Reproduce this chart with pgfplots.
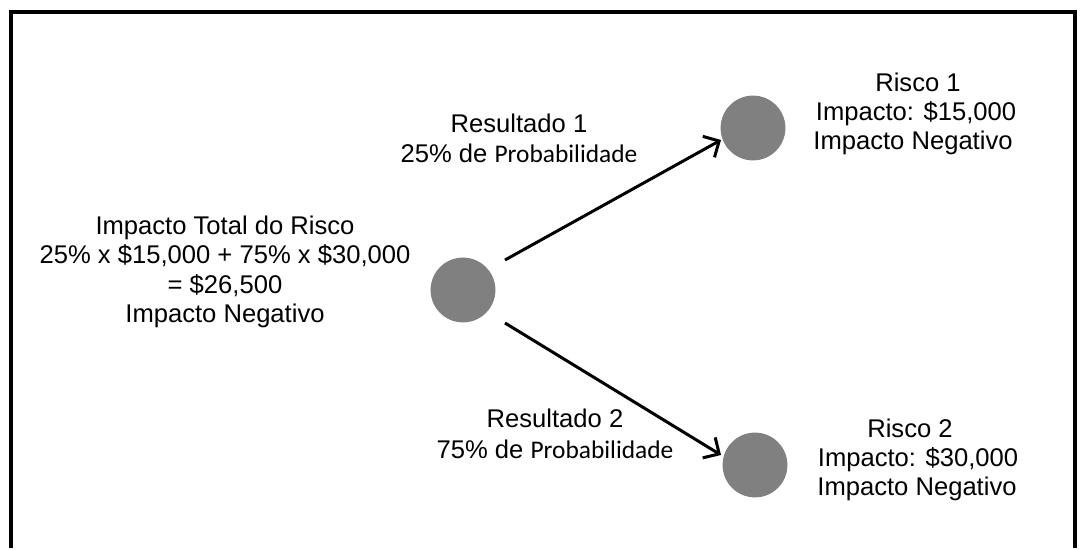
\documentclass[border=0pt]{standalone}
\usepackage{pgfplots}
\pgfplotsset{compat=1.18}
\usepackage{fontspec}
\setmainfont{Liberation Sans}
\newfontfamily\calfont{Carlito}
\usetikzlibrary{arrows.meta}
\definecolor{nodegray}{RGB}{128,128,128}
\begin{document}
\begin{tikzpicture}
\begin{axis}[
  width=540pt, height=274pt, scale only axis,
  xmin=0, xmax=1080, ymin=0, ymax=548, y dir=reverse,
  hide axis, clip=false,
]
\path (axis cs:0,0) rectangle (axis cs:1080,548);
% frame
\draw[line width=2pt, line join=miter] (axis cs:11,548) -- (axis cs:11,12) -- (axis cs:1075,12) -- (axis cs:1075,548);
% arrows
\addplot[black, line width=1.5pt, -{Straight Barb[length=6pt,width=12pt,line width=1.5pt]}] coordinates {(505,260) (721,140)};
\addplot[black, line width=1.5pt, -{Straight Barb[length=6pt,width=12pt,line width=1.5pt]}] coordinates {(505,323) (721,455)};
% circles
\addplot[only marks, mark=*, mark size=16pt, mark options={fill=nodegray, draw=nodegray}] coordinates {(463,290) (753,128) (755,465)};
% texts (anchored at baseline)
\tikzset{t/.style={font=\fontsize{12.8}{15}\selectfont, inner sep=0pt, anchor=base}}
\newcommand{\prob}{{\fontsize{12.7}{15}\calfont Probabilidade}}
\node[t] at (axis cs:225,235) {Impacto Total do Risco};
\node[t] at (axis cs:225,264) {25\% x \$15,000 + 75\% x \$30,000};
\node[t] at (axis cs:225,294) {= \$26,500};
\node[t] at (axis cs:225,322) {Impacto Negativo};
\node[t] at (axis cs:519,133) {Resultado 1};
\node[t] at (axis cs:519,163) {25\% de \prob};
\node[t] at (axis cs:555,427) {Resultado 2};
\node[t] at (axis cs:555,458) {75\% de \prob};
\node[t] at (axis cs:918,92) {Risco 1};
\node[t] at (axis cs:916,121) {Impacto: \$15,000};
\node[t] at (axis cs:913,150) {Impacto Negativo};
\node[t] at (axis cs:910,437) {Risco 2};
\node[t] at (axis cs:918,466) {Impacto: \$30,000};
\node[t] at (axis cs:917,495) {Impacto Negativo};
\end{axis}
\end{tikzpicture}
\end{document}
